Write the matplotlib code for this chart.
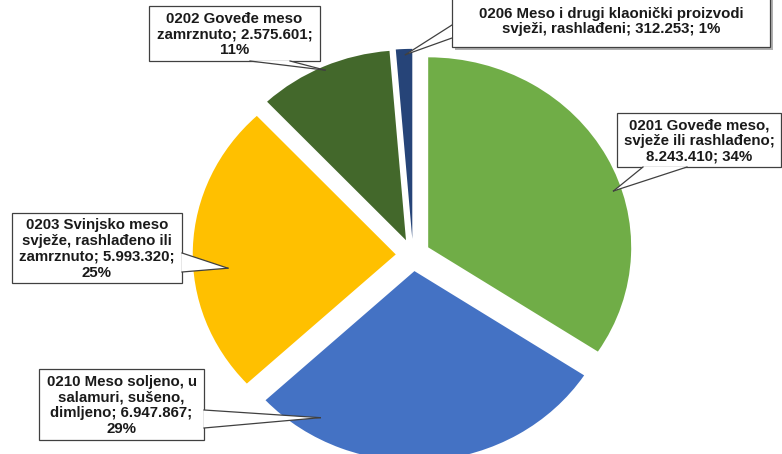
import numpy as np
import matplotlib
matplotlib.use("Agg")
import matplotlib.pyplot as plt
from matplotlib.patches import Rectangle, Polygon
from matplotlib.lines import Line2D

# data
codes = ["0201", "0210", "0203", "0202", "0206"]
labels = [
    "0201 Goveđe meso,\nsvježe ili rashlađeno;\n8.243.410; 34%",
    "0210 Meso soljeno, u\nsalamuri, sušeno,\ndimljeno; 6.947.867;\n29%",
    "0203 Svinjsko meso\nsvježe, rashlađeno ili\nzamrznuto; 5.993.320;\n25%",
    "0202 Goveđe meso\nzamrznuto; 2.575.601;\n11%",
    "0206 Meso i drugi klaonički proizvodi\nsvježi, rashlađeni; 312.253; 1%",
]
values = [8243410, 6947867, 5993320, 2575601, 312253]
colors = ["#70AD47", "#4472C4", "#FFC000", "#43682B", "#264478"]

W, H = 782, 454
fig = plt.figure(figsize=(W / 100, H / 100), dpi=100)
ax = fig.add_axes([0, 0, 1, 1])

cx, cy = 413, 255      # pie centre in pixels (from top)
rx, ry = 203, 190      # radius in pixels
wedges, _ = ax.pie(values, colors=colors, startangle=90, counterclock=False,
                   explode=[0.085] * len(values), radius=1,
                   wedgeprops=dict(linewidth=0))
ax.set_aspect("auto")
ax.set_xlim(-cx / rx, (W - cx) / rx)
ax.set_ylim(-(H - cy) / ry, cy / ry)
ax.axis("off")

# label boxes: (left, top, right, bottom) in pixels from top-left
boxes = [
    (617, 113, 781, 167),
    (39, 369, 204, 440),
    (12, 213, 182, 283),
    (149, 6, 320, 61),
    (452, -6, 770, 47),
]
shadow = [False, False, False, False, True]
# callout base on box edge, pixels
bases = [
    [(643, 167), (687, 167)],
    [(204, 410), (204, 428)],
    [(182, 253), (182, 272)],
    [(250, 61), (290, 61)],
    [(452, 25), (452, 38)],
]
# callout tip: angle (deg) and radius fraction from wedge apex
tips = [(18, 0.96), (-121, 0.9), (185, 0.83), (114, 0.98), (92, 0.97)]

def px(x, y):
    return (x / W, 1 - y / H)

to_fig = ax.transData + fig.transFigure.inverted()
edge = "#404040"

for w, lab, box, base, (ang, fr), sh in zip(wedges, labels, boxes, bases, tips, shadow):
    x0, y0, x1, y1 = box
    if sh:
        fig.patches.append(Rectangle(px(x0 + 3, y1 + 3), (x1 - x0) / W, (y1 - y0) / H,
                                     transform=fig.transFigure, facecolor="#b0b0b0",
                                     edgecolor="none", zorder=4))
    fig.patches.append(Rectangle(px(x0, y1), (x1 - x0) / W, (y1 - y0) / H,
                                 transform=fig.transFigure, facecolor="white",
                                 edgecolor=edge, linewidth=0.9, zorder=5))
    ccx, ccy = w.center
    a = np.deg2rad(ang)
    tip = to_fig.transform((ccx + fr * np.cos(a), ccy + fr * np.sin(a)))
    b0 = px(*base[0])
    b1 = px(*base[1])
    fig.patches.append(Polygon([b0, tip, b1], closed=True, transform=fig.transFigure,
                               facecolor="white", edgecolor="none", zorder=6))
    for b in (b0, b1):
        fig.lines.append(Line2D([b[0], tip[0]], [b[1], tip[1]], transform=fig.transFigure,
                                color=edge, linewidth=0.9, zorder=7))
    tx, ty = px((x0 + x1) / 2, (y0 + y1) / 2 + 1)
    fig.text(tx, ty, lab, ha="center", va="center", fontsize=10.8, fontweight="bold",
             family="Liberation Sans", color="#1a1a1a", linespacing=1.17, zorder=8)

fig.savefig("out.png", dpi=100)
